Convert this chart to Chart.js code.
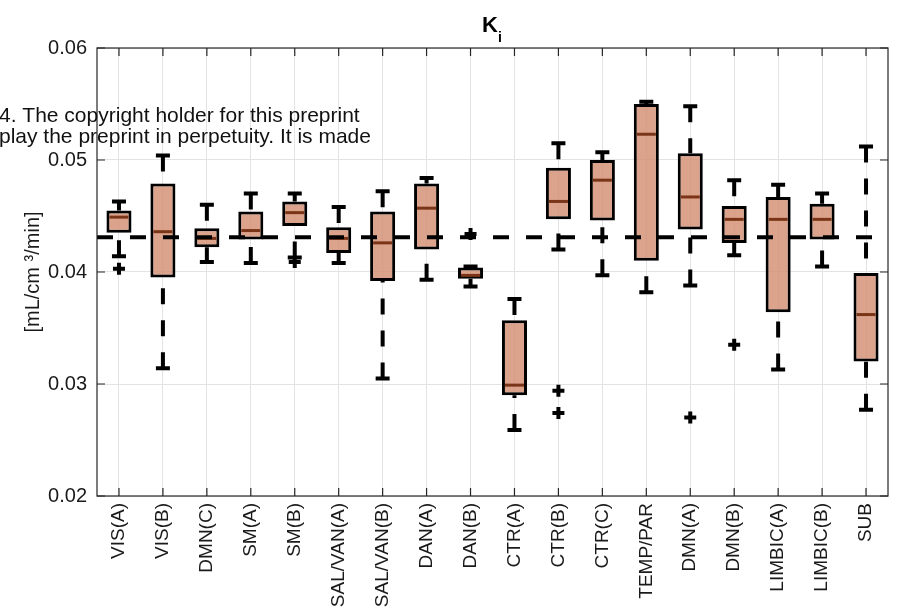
<!DOCTYPE html>
<html>
<head>
<meta charset="utf-8">
<script src="https://cdn.jsdelivr.net/npm/chart.js@4/dist/chart.umd.min.js"></script>
<style>
  body { margin: 0; background: #fff; }
  #wrap { width: 900px; height: 616px; }
</style>
</head>
<body>
<div id="wrap"><canvas id="chart1"></canvas></div>
<script>
const labels = ['VIS(A)', 'VIS(B)', 'DMN(C)', 'SM(A)', 'SM(B)', 'SAL/VAN(A)', 'SAL/VAN(B)', 'DAN(A)', 'DAN(B)',
  'CTR(A)', 'CTR(B)', 'CTR(C)', 'TEMP/PAR', 'DMN(A)', 'DMN(B)', 'LIMBIC(A)', 'LIMBIC(B)', 'SUB'];

const q1 =       [0.0435, 0.0395, 0.0422, 0.0429, 0.0441, 0.0417, 0.0392, 0.0420, 0.0394, 0.0290, 0.0447, 0.0446, 0.0410, 0.0438, 0.0426, 0.0364, 0.0429, 0.0320];
const median =   [0.0449, 0.0436, 0.0430, 0.0437, 0.0453, 0.0430, 0.0426, 0.0457, 0.0397, 0.0299, 0.0463, 0.0482, 0.0523, 0.0467, 0.0447, 0.0447, 0.0447, 0.0362];
const q3 =       [0.0455, 0.0479, 0.0439, 0.0454, 0.0463, 0.0440, 0.0454, 0.0479, 0.0404, 0.0357, 0.0493, 0.0500, 0.0550, 0.0506, 0.0459, 0.0467, 0.0461, 0.0399];
const whiskLo =  [0.0414, 0.0314, 0.0409, 0.0408, 0.0413, 0.0408, 0.0305, 0.0393, 0.0387, 0.0259, 0.0420, 0.0397, 0.0382, 0.0388, 0.0415, 0.0313, 0.0405, 0.0277];
const whiskHi =  [0.0463, 0.0504, 0.0460, 0.0470, 0.0470, 0.0458, 0.0472, 0.0484, 0.0405, 0.0376, 0.0515, 0.0507, 0.0552, 0.0548, 0.0482, 0.0478, 0.0470, 0.0512];

const outlierCat = ['VIS(A)', 'SM(B)', 'DAN(B)', 'CTR(B)', 'CTR(B)', 'DMN(A)', 'DMN(B)'];
const outlierVal = [0.0403, 0.0409, 0.0434, 0.0294, 0.0274, 0.0270, 0.0335];

const refValue = 0.0431;
const yTicks = [0.02, 0.03, 0.04, 0.05, 0.06];

const FONT = '"Liberation Sans", Arial, sans-serif';

// whiskers, caps, medians, reference line, frame, title, watermark
const boxExtras = {
  id: 'boxExtras',
  afterDatasetsDraw(chart) {
    const c = chart.ctx, x = chart.scales.x, y = chart.scales.y, a = chart.chartArea;
    const boxW = x.getPixelForValue(1) - x.getPixelForValue(0);
    c.save();
    labels.forEach((lab, i) => {
      const cx = x.getPixelForValue(i);
      const half = boxW * 0.285;
      // whiskers (dashed, drawn from cap toward box)
      c.strokeStyle = '#000';
      c.lineWidth = 4;
      c.setLineDash([16, 16]);
      c.beginPath();
      c.moveTo(cx, y.getPixelForValue(whiskHi[i]));
      c.lineTo(cx, y.getPixelForValue(q3[i]));
      c.moveTo(cx, y.getPixelForValue(whiskLo[i]));
      c.lineTo(cx, y.getPixelForValue(q1[i]));
      c.stroke();
      c.setLineDash([]);
      // caps
      c.beginPath();
      c.moveTo(cx - 7, y.getPixelForValue(whiskHi[i]));
      c.lineTo(cx + 7, y.getPixelForValue(whiskHi[i]));
      c.moveTo(cx - 7, y.getPixelForValue(whiskLo[i]));
      c.lineTo(cx + 7, y.getPixelForValue(whiskLo[i]));
      c.stroke();
      // median
      c.strokeStyle = '#7a3518';
      c.lineWidth = 3;
      c.beginPath();
      c.moveTo(cx - half + 3, y.getPixelForValue(median[i]));
      c.lineTo(cx + half - 3, y.getPixelForValue(median[i]));
      c.stroke();
    });
    // reference line
    const ry = y.getPixelForValue(refValue);
    c.strokeStyle = '#000';
    c.lineWidth = 4;
    c.setLineDash([16, 17]);
    c.beginPath();
    c.moveTo(a.left, ry);
    c.lineTo(a.right, ry);
    c.stroke();
    c.setLineDash([]);
    c.restore();
  },
  afterDraw(chart) {
    const c = chart.ctx, x = chart.scales.x, y = chart.scales.y, a = chart.chartArea;
    c.save();
    // frame + inward ticks
    c.strokeStyle = '#262626';
    c.lineWidth = 1.2;
    c.strokeRect(a.left, a.top, a.right - a.left, a.bottom - a.top);
    c.beginPath();
    labels.forEach((lab, i) => {
      const px = x.getPixelForValue(i);
      c.moveTo(px, a.top); c.lineTo(px, a.top + 8);
      c.moveTo(px, a.bottom); c.lineTo(px, a.bottom - 8);
    });
    yTicks.forEach(v => {
      const py = y.getPixelForValue(v);
      c.moveTo(a.left, py); c.lineTo(a.left + 8, py);
      c.moveTo(a.right, py); c.lineTo(a.right - 8, py);
    });
    c.stroke();
    // title K_i
    c.fillStyle = '#000';
    c.textBaseline = 'alphabetic';
    c.textAlign = 'left';
    c.font = 'bold 22px ' + FONT;
    c.fillText('K', 482, 32);
    c.font = 'bold 14px ' + FONT;
    c.fillText('i', 498, 42);
    // preprint watermark
    c.font = '21px ' + FONT;
    c.fillStyle = '#111';
    c.fillText('4. The copyright holder for this preprint', -1, 122);
    c.fillText('play the preprint in perpetuity. It is made', -1, 143);
    c.restore();
  }
};

const ctx = document.getElementById('chart1');

const myChart1 = new Chart(ctx, {
  type: 'bar',
  data: {
    labels: labels,
    datasets: [{
      label: 'box',
      data: labels.map((l, i) => [q1[i], q3[i]]),
      backgroundColor: 'rgba(210,140,110,0.8)',
      borderColor: '#000',
      borderWidth: 3,
      borderSkipped: false,
      barPercentage: 0.57,
      categoryPercentage: 1,
      order: 2
    }, {
      type: 'line',
      label: 'outliers',
      data: outlierCat.map((l, i) => ({ x: l, y: outlierVal[i] })),
      showLine: false,
      pointStyle: 'cross',
      pointRadius: 6,
      pointBorderWidth: 4,
      pointBorderColor: '#000',
      pointBackgroundColor: '#000',
      order: 1
    }]
  },
  options: {
    responsive: true,
    maintainAspectRatio: false,
    animation: false,
    events: [],
    layout: { padding: { top: 48, right: 12, left: 0, bottom: 0 } },
    plugins: {
      legend: { display: false },
      title: { display: false },
      tooltip: { enabled: false }
    },
    scales: {
      x: {
        afterFit(s) { s.height = 120; },
        grid: { offset: false, color: '#e3e3e3', drawTicks: false },
        border: { display: false },
        ticks: {
          autoSkip: false,
          minRotation: 90,
          maxRotation: 90,
          padding: 7,
          color: '#1a1a1a',
          font: { size: 19, family: FONT }
        }
      },
      y: {
        min: 0.02,
        max: 0.06,
        afterFit(s) { s.width = 97; },
        afterBuildTicks(s) { s.ticks = yTicks.map(v => ({ value: v })); },
        grid: { color: '#e3e3e3', drawTicks: false },
        border: { display: false },
        ticks: {
          padding: 10,
          color: '#1a1a1a',
          font: { size: 20, family: FONT },
          callback: v => v.toFixed(2)
        },
        title: {
          display: true,
          text: '[mL/cm ³/min]',
          color: '#1a1a1a',
          padding: { top: 21, bottom: 0 },
          font: { size: 20, family: FONT }
        }
      }
    }
  },
  plugins: [boxExtras]
});
</script>
</body>
</html>
